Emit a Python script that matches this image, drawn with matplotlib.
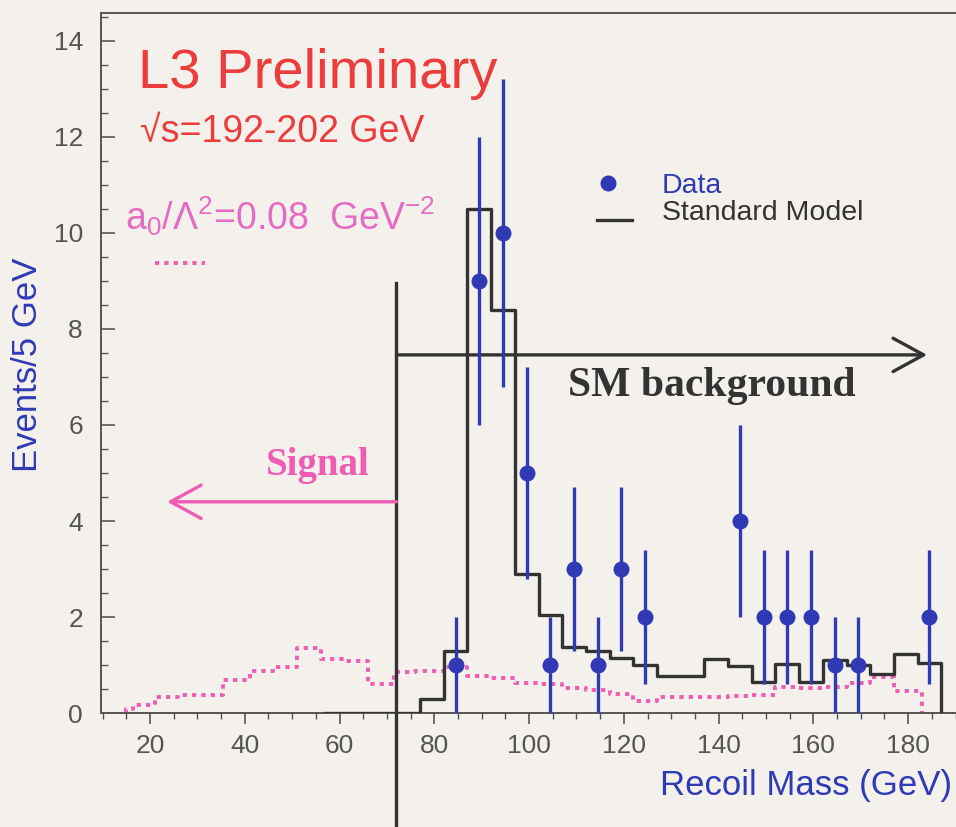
"""Recoil mass spectrum: data vs Standard Model, with anomalous-coupling signal."""

import matplotlib
matplotlib.use("Agg")
import matplotlib.pyplot as plt
from matplotlib.ticker import MultipleLocator

# ---------------------------------------------------------------------------
# Data
# ---------------------------------------------------------------------------

# Observed events (bin centres, counts, error bars)
data_mass = [84.5, 89.5, 94.5, 99.5, 104.5, 109.5, 114.5, 119.5, 124.5,
             144.5, 149.5, 154.5, 159.5, 164.5, 169.5, 184.5]
data_counts = [1, 9, 10, 5, 1, 3, 1, 3, 2, 4, 2, 2, 2, 1, 1, 2]
data_err = [1.0, 3.0, 3.2, 2.2, 1.0, 1.7, 1.0, 1.7, 1.4,
            2.0, 1.4, 1.4, 1.4, 1.0, 1.0, 1.4]

# Standard Model expectation (bin edges, contents)
sm_edges = [57, 77, 82, 87, 92, 97, 102, 107, 112, 117, 122, 127, 132, 137,
            142, 147, 152, 157, 162, 167, 172, 177, 182, 187]
sm_counts = [0.0, 0.3, 1.3, 10.5, 8.4, 2.9, 2.05, 1.38, 1.3, 1.15, 1.0,
             0.78, 0.78, 1.12, 0.98, 0.65, 1.03, 0.65, 1.1, 1.0, 0.82,
             1.22, 1.05]

# Signal for a0/Lambda^2 = 0.08 GeV^-2 (bin edges, contents)
sig_edges = [15, 16.5, 21, 26, 31, 35.5, 41, 46, 51, 56, 61, 66, 71.5, 76,
             82, 87, 92, 97, 102, 107, 112, 117, 122, 127, 132, 137, 142,
             147, 152, 157, 162, 167, 172, 177, 183]
sig_counts = [0.08, 0.17, 0.33, 0.37, 0.37, 0.68, 0.87, 0.95, 1.35, 1.13,
              1.08, 0.6, 0.85, 0.88, 0.95, 0.78, 0.72, 0.62, 0.6, 0.52,
              0.48, 0.4, 0.25, 0.33, 0.33, 0.33, 0.35, 0.37, 0.54, 0.52,
              0.55, 0.63, 0.75, 0.45]

CUT_MASS = 72.0

# ---------------------------------------------------------------------------
# Style
# ---------------------------------------------------------------------------

BG = "#f4f1ec"
INK = "#333333"
BLUE = "#2f3ab4"
RED = "#ec3c3c"
PINK = "#ee5cb4"
MAGENTA = "#e46cc4"
DOTTED = (0, (1.1, 1.3))

plt.rcParams["font.family"] = ["Liberation Sans", "DejaVu Sans"]
plt.rcParams["mathtext.fontset"] = "custom"
plt.rcParams["mathtext.rm"] = "Liberation Sans"
plt.rcParams["mathtext.it"] = "Liberation Sans:italic"


def step_xy(edges, counts):
    xs, ys = [edges[0]], [0.0]
    for lo, hi, c in zip(edges[:-1], edges[1:], counts):
        xs += [lo, hi]
        ys += [c, c]
    xs.append(edges[-1])
    ys.append(0.0)
    return xs, ys


fig = plt.figure(figsize=(9.56, 8.27), dpi=100, facecolor=BG)
ax = fig.add_axes([0.1057, 0.1378, 0.8943, 0.8464], facecolor=BG)

# Signal (dotted) and SM (solid) histograms
sx, sy = step_xy(sig_edges, sig_counts)
ax.plot(sx, sy, color=PINK, lw=2.8, linestyle=DOTTED, zorder=2)
bx, by = step_xy(sm_edges, sm_counts)
ax.plot(bx, by, color=INK, lw=2.4, zorder=3)

# Data points
ax.errorbar(data_mass, data_counts, yerr=data_err, fmt="o", color=BLUE,
            ms=10.5, elinewidth=2.4, capsize=0, zorder=4)

# Cut line and region arrows
ax.plot([CUT_MASS, CUT_MASS], [8.96, -2.6], color=INK, lw=2.4,
        clip_on=False, zorder=3)
ax.annotate("", xy=(184.0, 7.46), xytext=(CUT_MASS, 7.46),
            arrowprops=dict(arrowstyle="->,head_length=2.2,head_width=1.2",
                            color=INK, lw=2.4, shrinkA=0, shrinkB=0))
ax.annotate("", xy=(23.6, 4.4), xytext=(CUT_MASS, 4.4),
            arrowprops=dict(arrowstyle="->,head_length=2.2,head_width=1.2",
                            color=PINK, lw=2.4, shrinkA=0, shrinkB=0))
ax.text(55.5, 4.96, "Signal", color=PINK, fontsize=28, fontweight="bold",
        family="Liberation Serif", ha="center", va="baseline")
ax.text(108.2, 6.6, "SM background", color=INK, fontsize=30,
        fontweight="bold", family="Liberation Serif", ha="left",
        va="baseline")

# Titles and annotations
ax.text(17.5, 13.02, "L3 Preliminary", color=RED, fontsize=40.5,
        ha="left", va="baseline")
ax.text(17.9, 11.9, "\u221as=192-202 GeV", color=RED, fontsize=27,
        ha="left", va="baseline")
ax.text(14.7, 10.06, r"a$_0$/Λ$^2$=0.08  GeV$^{-2}$", color=MAGENTA,
        fontsize=27, ha="left", va="baseline")
ax.plot([21.1, 31.6], [9.37, 9.37], color=PINK, lw=2.8, linestyle=DOTTED)

# Key
ax.plot([116.7], [11.04], "o", color=BLUE, ms=10.5)
ax.text(128.0, 10.83, "Data", color=BLUE, fontsize=20.5, ha="left",
        va="baseline")
ax.plot([114.3, 121.7], [10.27, 10.27], color=INK, lw=2.4)
ax.text(128.0, 10.28, "Standard Model", color=INK, fontsize=20.5,
        ha="left", va="baseline")

# Axes
ax.set_xlim(9.66, 190.1)
ax.set_ylim(0, 14.58)
ax.xaxis.set_major_locator(MultipleLocator(20))
ax.xaxis.set_minor_locator(MultipleLocator(5))
ax.yaxis.set_major_locator(MultipleLocator(2))
ax.yaxis.set_minor_locator(MultipleLocator(0.5))
ax.tick_params(axis="x", which="major", direction="out", length=8,
               width=1.2, pad=7, labelsize=19, colors="#555555")
ax.tick_params(axis="x", which="minor", direction="out", length=4,
               width=1.0, colors="#555555")
ax.tick_params(axis="y", which="major", direction="in", length=10,
               width=1.2, pad=13, labelsize=19, colors="#555555")
ax.tick_params(axis="y", which="minor", direction="in", length=5,
               width=1.0, colors="#555555")
ax.set_xticks([20, 40, 60, 80, 100, 120, 140, 160, 180])

for side in ("left", "bottom", "top"):
    ax.spines[side].set_color("#555555")
    ax.spines[side].set_linewidth(1.4)
ax.spines["right"].set_visible(False)

fig.text(0.996, 1 - 795 / 827, "Recoil Mass (GeV)", color=BLUE,
         fontsize=25, ha="right", va="baseline")
fig.text(28 / 956, 1 - 365 / 827, "Events/5 GeV", color=BLUE,
         fontsize=25, ha="center", va="center", rotation=90)

fig.savefig("out.png", dpi=100, facecolor=BG)
